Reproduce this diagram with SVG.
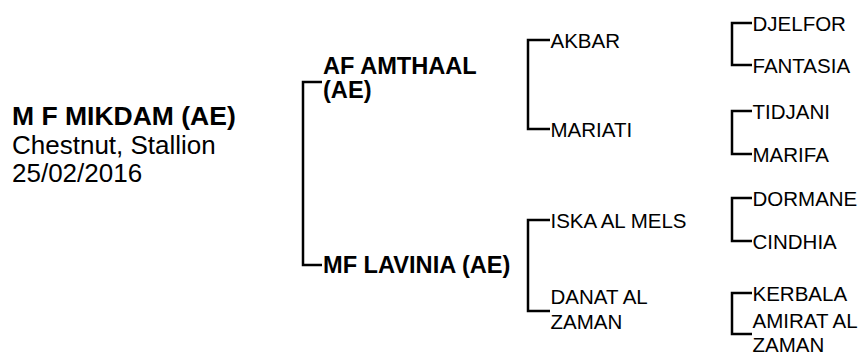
<svg xmlns="http://www.w3.org/2000/svg" width="865" height="358" viewBox="0 0 865 358">
<style>
text{font-family:"Liberation Sans",Arial,sans-serif;fill:#000}
.main{font-size:26.5px;font-weight:bold}
.info{font-size:26px}
.g1{font-size:23.6px;font-weight:bold}
.g2{font-size:20.5px}
.con path{fill:none;stroke:#000;stroke-width:2.5}
</style>
<rect width="865" height="358" fill="#fff"/>
<g class="con" id="connectors">
<path d="M322,82 H303 V265 H322"/>
<path d="M550,40 H528 V129 H550"/>
<path d="M550,220 H528 V311 H550"/>
<path d="M752,23 H732 V65 H752"/>
<path d="M752,111 H732 V154 H752"/>
<path d="M752,198 H732 V241 H752"/>
<path d="M752,293 H732 V334 H752"/>
</g>
<g id="subject">
<text class="main" x="12" y="125">M F MIKDAM (AE)</text>
<text class="info" x="12" y="154">Chestnut, Stallion</text>
<text class="info" x="12" y="182">25/02/2016</text>
</g>
<g id="sire"><text class="g1" x="323" y="74">AF AMTHAAL</text><text class="g1" x="323" y="98">(AE)</text></g>
<g id="dam"><text class="g1" x="323" y="273">MF LAVINIA (AE)</text></g>
<g id="ss"><text class="g2" x="550.5" y="47.5">AKBAR</text></g>
<g id="sd"><text class="g2" x="550.5" y="136.5">MARIATI</text></g>
<g id="ds"><text class="g2" x="550.5" y="227.5">ISKA AL MELS</text></g>
<g id="dd"><text class="g2" x="550.5" y="303.5">DANAT AL</text><text class="g2" x="550.5" y="329">ZAMAN</text></g>
<g id="sss"><text class="g2" x="752.5" y="30.5">DJELFOR</text></g>
<g id="ssd"><text class="g2" x="752.5" y="72.5">FANTASIA</text></g>
<g id="sds"><text class="g2" x="752.5" y="118.5">TIDJANI</text></g>
<g id="sdd"><text class="g2" x="752.5" y="161.5">MARIFA</text></g>
<g id="dss"><text class="g2" x="752.5" y="205.5">DORMANE</text></g>
<g id="dsd"><text class="g2" x="752.5" y="248.5">CINDHIA</text></g>
<g id="dds"><text class="g2" x="752.5" y="300.5">KERBALA</text></g>
<g id="ddd"><text class="g2" x="752.5" y="327.5">AMIRAT AL</text><text class="g2" x="752.5" y="352">ZAMAN</text></g>
</svg>
